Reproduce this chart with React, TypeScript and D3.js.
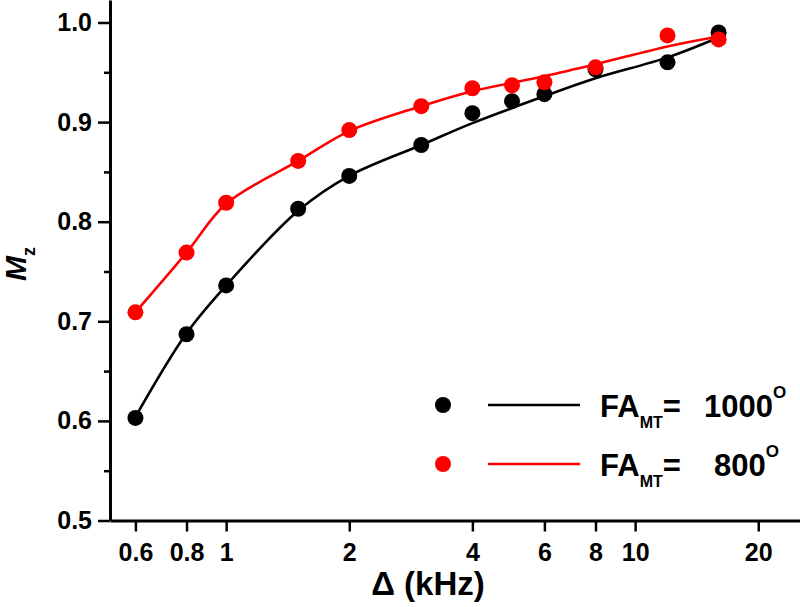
import React, { useEffect, useRef } from 'react';
import * as d3 from 'd3';

// measured points, Delta in kHz
const deltaKHz = [0.6, 0.8, 1, 1.5, 2, 3, 4, 5, 6, 8, 12, 16];
const mz1000 = [0.603, 0.687, 0.736, 0.813, 0.846, 0.877, 0.909, 0.921, 0.928, 0.953, 0.960, 0.990];
const mz800 = [0.709, 0.769, 0.819, 0.861, 0.892, 0.916, 0.934, 0.937, 0.940, 0.955, 0.987, 0.983];

// fitted curves
const fitDelta = [0.6, 0.8, 1, 1.5, 2, 3, 4, 6, 8, 12, 16];
const fit1000 = [0.604, 0.688, 0.736, 0.811, 0.846, 0.877, 0.899, 0.926, 0.944, 0.965, 0.985];
const fit800 = [0.709, 0.769, 0.818, 0.861, 0.891, 0.916, 0.931, 0.946, 0.958, 0.976, 0.986];

const xTicks = [0.6, 0.8, 1, 2, 4, 6, 8, 10, 20];
const yTicks = [0.5, 0.6, 0.7, 0.8, 0.9, 1.0];
const yMinorTicks = [0.55, 0.65, 0.75, 0.85, 0.95];

const series = [
  { color: '#000000', pts: mz1000, fit: fit1000, label: '1000' },
  { color: '#ff0000', pts: mz800, fit: fit800, label: '800' },
];

const FONT = '"Liberation Sans", Arial, sans-serif';

const App = () => {
  const svgRef = useRef<SVGSVGElement>(null);

  useEffect(() => {
    const svg = d3.select(svgRef.current);
    svg.selectAll('*').remove();

    const width = 800;
    const height = 607;

    const xScale = d3.scaleLog().domain([0.52, 25.3]).range([110, 800]);
    const yScale = d3.scaleLinear().domain([0.5, 1.0]).range([520.5, 22.5]);
    const yTop = yScale.invert(0);

    svg.attr('width', width).attr('height', height);
    svg.append('rect').attr('width', width).attr('height', height).attr('fill', 'white');

    // curves and points
    const line = d3.line<number>()
      .x((d, i) => xScale(fitDelta[i]))
      .y(d => yScale(d))
      .curve(d3.curveCatmullRom.alpha(0.5));

    series.forEach(s => {
      svg.append('g')
        .selectAll('circle')
        .data(s.pts)
        .enter()
        .append('circle')
        .attr('cx', (d, i) => xScale(deltaKHz[i]))
        .attr('cy', d => yScale(d))
        .attr('r', 8)
        .attr('fill', s.color);

      svg.append('path')
        .datum(s.fit)
        .attr('fill', 'none')
        .attr('stroke', s.color)
        .attr('stroke-width', 2.6)
        .attr('d', line);
    });

    // y axis
    const yAxisScale = yScale.copy().domain([0.5, yTop]).range([520.5, 0]);
    const yAxis = svg.append('g')
      .attr('transform', 'translate(110,0)')
      .call(d3.axisLeft(yAxisScale)
        .tickValues(yTicks)
        .tickSize(12)
        .tickSizeOuter(0)
        .tickPadding(6)
        .tickFormat(d3.format('.1f')));
    svg.append('g')
      .attr('transform', 'translate(110,0)')
      .call(d3.axisLeft(yAxisScale)
        .tickValues(yMinorTicks)
        .tickSize(6)
        .tickSizeOuter(0)
        .tickFormat(() => ''))
      .call(g => g.select('.domain').remove())
      .selectAll('line').attr('stroke-width', 2.5);

    // x axis
    const xAxis = svg.append('g')
      .attr('transform', 'translate(0,520.5)')
      .call(d3.axisBottom(xScale)
        .tickValues(xTicks)
        .tickSize(11)
        .tickSizeOuter(0)
        .tickPadding(12)
        .tickFormat(d => String(d)));

    [xAxis, yAxis].forEach(g => {
      g.select('.domain').attr('stroke-width', 3);
      g.selectAll('line').attr('stroke-width', 2.5);
      g.selectAll('text')
        .attr('fill', '#000')
        .style('font-family', FONT)
        .style('font-weight', 'bold')
        .style('font-size', '25px');
    });

    // axis titles
    svg.append('text')
      .attr('x', 428)
      .attr('y', 595)
      .attr('text-anchor', 'middle')
      .style('font-family', FONT)
      .style('font-weight', 'bold')
      .style('font-size', '33px')
      .text('\u0394 (kHz)');

    const yLabel = svg.append('text')
      .attr('transform', 'translate(26,264) rotate(-90)')
      .attr('text-anchor', 'middle')
      .style('font-family', FONT)
      .style('font-weight', 'bold')
      .style('font-size', '30px');
    yLabel.append('tspan').style('font-style', 'italic').text('M');
    yLabel.append('tspan').attr('dy', 9).style('font-size', '18px').text('z');

    // legend
    series.forEach((s, i) => {
      const cy = 405 + i * 59;
      svg.append('circle').attr('cx', 443).attr('cy', cy).attr('r', 8).attr('fill', s.color);
      svg.append('line')
        .attr('x1', 488).attr('x2', 580)
        .attr('y1', cy).attr('y2', cy)
        .attr('stroke', s.color)
        .attr('stroke-width', 2.6);

      const base = cy + 12;
      const t = svg.append('text')
        .attr('y', base)
        .style('font-family', FONT)
        .style('font-weight', 'bold')
        .style('font-size', '31px');
      t.append('tspan').attr('x', 600).text('FA');
      t.append('tspan').attr('dy', 11).style('font-size', '16px').text('MT');
      t.append('tspan').attr('dy', -11).text('=');
      t.append('tspan').attr('x', i === 0 ? 704 : 714).text(s.label);
      t.append('tspan').attr('dy', -19).style('font-size', '17px').text('O');
    });
  }, []);

  return (
    <div style={{ position: 'absolute', left: 0, top: 0 }}>
      <svg ref={svgRef} style={{ display: 'block' }}></svg>
    </div>
  );
};

export default App;
